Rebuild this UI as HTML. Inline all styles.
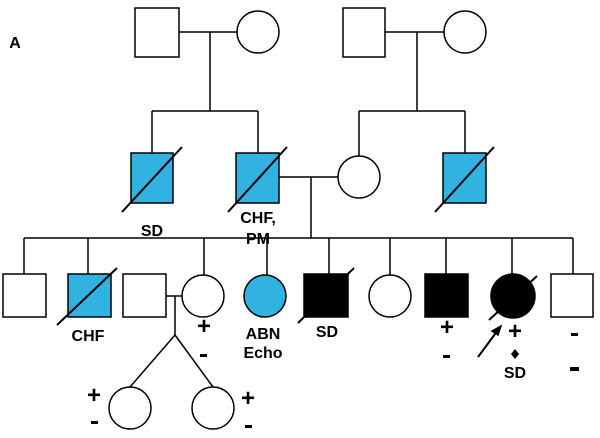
<!DOCTYPE html>
<html><head><style>body{margin:0;background:#fff}svg{display:block}text{font-family:"Liberation Sans",sans-serif;font-weight:bold;font-size:16px;text-anchor:middle}text.p{font-size:24px}</style></head>
<body>
<svg width="600" height="438" viewBox="0 0 600 438" stroke="#000" stroke-width="1.5" fill="none">
<text x="15" y="48" stroke="none" fill="#000">A</text>
<rect x="135" y="8" width="44" height="49" fill="#fff"/>
<circle cx="258" cy="32" r="21" fill="#fff"/>
<line x1="179" y1="32" x2="237" y2="32"/><line x1="210" y1="32" x2="210" y2="111"/>
<line x1="152" y1="111" x2="258" y2="111"/><line x1="152" y1="111" x2="152" y2="153"/><line x1="258" y1="111" x2="258" y2="153"/>
<rect x="343" y="8" width="42" height="49" fill="#fff"/>
<circle cx="465" cy="32" r="21" fill="#fff"/>
<line x1="385" y1="32" x2="444" y2="32"/><line x1="417" y1="32" x2="417" y2="111"/>
<line x1="359" y1="111" x2="465" y2="111"/><line x1="359" y1="111" x2="359" y2="156"/><line x1="465" y1="111" x2="465" y2="153"/>
<rect x="131" y="153" width="42" height="50" fill="#31b2e0"/>
<line x1="122" y1="212" x2="182" y2="147" stroke-width="2"/>
<rect x="236" y="153" width="43" height="50" fill="#31b2e0"/>
<line x1="228" y1="212" x2="287" y2="147" stroke-width="2"/>
<circle cx="359" cy="177" r="21" fill="#fff"/>
<line x1="279" y1="177" x2="338" y2="177"/><line x1="311" y1="177" x2="311" y2="238"/>
<rect x="443" y="153" width="43" height="50" fill="#31b2e0"/>
<line x1="435" y1="212" x2="494" y2="147" stroke-width="2"/>
<text x="152" y="236" stroke="none" fill="#000">SD</text>
<text x="258" y="223" stroke="none" fill="#000">CHF,</text>
<text x="258" y="244" stroke="none" fill="#000">PM</text>
<line x1="24" y1="238" x2="573" y2="238"/>
<line x1="24" y1="238" x2="24" y2="274"/><line x1="88" y1="238" x2="88" y2="274"/>
<line x1="204" y1="238" x2="204" y2="275"/><line x1="267" y1="238" x2="267" y2="275"/>
<line x1="329" y1="238" x2="329" y2="274"/><line x1="390" y1="238" x2="390" y2="275"/>
<line x1="446" y1="238" x2="446" y2="274"/><line x1="512" y1="238" x2="512" y2="274"/>
<line x1="573" y1="238" x2="573" y2="274"/>
<rect x="3" y="274" width="43" height="43" fill="#fff"/>
<rect x="68" y="274" width="43" height="43" fill="#31b2e0"/>
<line x1="57" y1="325" x2="117" y2="268" stroke-width="2"/>
<rect x="123" y="274" width="43" height="43" fill="#fff"/>
<circle cx="203" cy="296" r="21" fill="#fff"/>
<line x1="166" y1="296" x2="182" y2="296"/><line x1="175" y1="296" x2="175" y2="335"/>
<line x1="175" y1="335" x2="130" y2="387"/><line x1="175" y1="335" x2="213" y2="387"/>
<circle cx="130" cy="408" r="21" fill="#fff"/>
<circle cx="213" cy="408" r="21" fill="#fff"/>
<circle cx="265" cy="296" r="21" fill="#31b2e0"/>
<rect x="304" y="274" width="44" height="43" fill="#000"/>
<line x1="298" y1="323" x2="354" y2="268" stroke-width="2"/>
<circle cx="390" cy="296" r="21" fill="#fff"/>
<rect x="425" y="274" width="43" height="43" fill="#000"/>
<circle cx="513" cy="296" r="22" fill="#000"/>
<line x1="489" y1="320" x2="537" y2="276" stroke-width="2"/>
<rect x="551" y="274" width="42" height="43" fill="#fff"/>
<line x1="478" y1="357" x2="498" y2="330" stroke-width="2"/>
<polygon points="501,326 492,331 498,335" fill="#000"/>
<g stroke="none" fill="#000">
<text x="88" y="341">CHF</text>
<text class="p" x="204" y="334">+</text><rect x="200" y="354" width="7" height="3"/>
<text x="263" y="339">ABN</text><text x="263" y="358">Echo</text>
<text class="p" x="94" y="403">+</text><rect x="91" y="421" width="7" height="3"/>
<text class="p" x="248" y="406">+</text><rect x="245" y="425" width="7" height="3"/>
<text x="327" y="337">SD</text>
<text class="p" x="447" y="335">+</text><rect x="443" y="355" width="7" height="3"/>
<text class="p" x="515" y="339">+</text>
<polygon points="515,349 519,354 515,359 511,354"/>
<text x="515" y="378">SD</text>
<rect x="571" y="333" width="7" height="3"/><rect x="570" y="367" width="9" height="4"/>
</g>
</svg>
</body></html>
